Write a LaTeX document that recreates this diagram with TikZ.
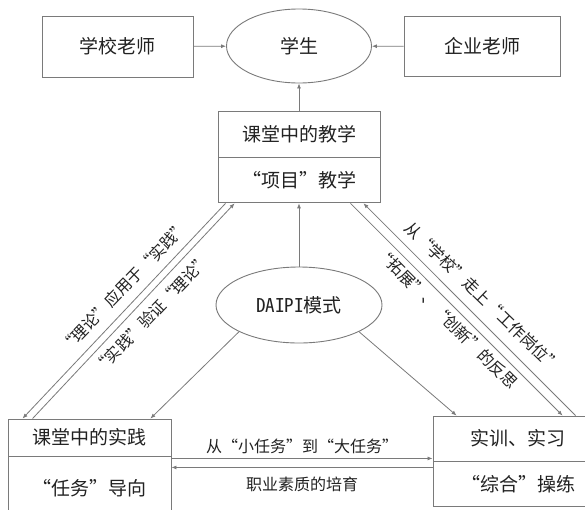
\documentclass[tikz,border=0pt]{standalone}
\usepackage{fontspec}
\setmainfont{Noto Sans CJK SC}
\newfontfamily\fwfont[RawFeature=+fwid]{Noto Sans CJK SC}
\newfontfamily\hwfont[RawFeature=+hwid]{Noto Sans CJK SC}
\usetikzlibrary{positioning,calc,shapes.geometric,arrows.meta}
\definecolor{linegray}{HTML}{7A7A7A}
\definecolor{textgray}{HTML}{222222}
\begin{document}
\begin{tikzpicture}[x=1pt,y=-1pt,
    box/.style={draw=linegray,line width=0.9pt,rectangle,text=textgray,font=\fwfont\fontsize{19}{22}\selectfont},
    oval/.style={draw=linegray,line width=0.9pt,ellipse,text=textgray,font=\fwfont\fontsize{19}{22}\selectfont},
    arr/.style={-{Latex[length=5pt,width=4pt]},draw=linegray,line width=0.8pt},
    lbl/.style={text=textgray,font=\fwfont\fontsize{16}{18}\selectfont,inner sep=1pt}]
    \useasboundingbox[fill=white] (0,0) rectangle (585,509);
    \node[box,minimum width=151pt,minimum height=61pt] (school) at (117.5,46.5) {学校老师};
    \node[oval,minimum width=145pt,minimum height=74pt] (student) at (299,46) {学生};
    \node[box,minimum width=156pt,minimum height=60pt] (firm) at (482,46.5) {企业老师};
    \node[box,minimum width=162pt,minimum height=46pt] (teachA) at (299,134) {课堂中的教学};
    \node[box,minimum width=162pt,minimum height=45pt,below=0pt of teachA] (teachB) {“项目”教学};
    \node[oval,minimum width=166pt,minimum height=76pt] (daipi) at (299,305) {{\hwfont DAIPI}模式};
    \node[box,minimum width=163pt,minimum height=37pt] (practiceA) at (89.5,437.5) {课堂中的实践};
    \node[box,minimum width=163pt,minimum height=62pt,below=0pt of practiceA] (practiceB) {“任务”导向};
    \node[box,minimum width=170pt,minimum height=45pt] (trainA) at (518,438.5) {实训、实习};
    \node[box,minimum width=170pt,minimum height=45pt,below=0pt of trainA] (trainB) {“综合”操练};
    \draw[arr] (school) -- (student);
    \draw[arr] (firm) -- (student);
    \draw[arr] (teachA) -- (student);
    \draw[arr] (daipi) -- (teachB);
    \draw[arr] (daipi.204) -- ($(practiceA.north east)+(-21,0)$);
    \draw[arr] (daipi.336) -- ($(trainA.north west)+(24,0)$);
    \draw[arr] ($(teachB.south west)+(8,0)$) -- ($(practiceA.north west)+(15,0)$);
    \draw[arr] ($(practiceA.north west)+(25,0)$) -- ($(teachB.south west)+(17,0)$);
    \draw[arr] ($(teachB.south east)+(-30,0)$) -- ($(trainA.north west)+(130,0)$);
    \draw[arr] ($(trainA.north west)+(143,0)$) -- ($(teachB.south east)+(-17,0)$);
    \draw[arr] ($(practiceA.south east)+(0,2)$) -- ($(trainA.south west)+(0,-3)$)
      node[lbl,midway,above=3pt] (small) {从“小任务”到“大任务”};
    \draw[arr] ($(trainB.north west)+(0,6)$) -- ($(practiceB.north east)+(0,11)$)
      node[lbl,midway,below=8pt] (quality) {职业素质的培育};
    \node[lbl,rotate=46] (apply) at (124,287) {“理论”应用于“实践”};
    \node[lbl,rotate=46] (verify) at (152,314) {“实践”验证“理论”};
    \node[lbl,rotate=-44] (towork) at (483,297) {从“学校”走上“工作岗位”};
    \node[lbl,rotate=-45] (reflect) at (447,318) {“拓展”、“创新”的反思};
\end{tikzpicture}
\end{document}
